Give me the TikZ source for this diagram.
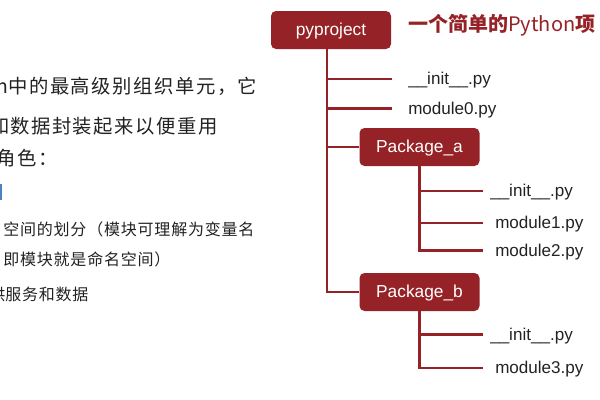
\documentclass[tikz,border=0pt]{standalone}
\usepackage{fontspec}
\setmainfont{Liberation Sans}
\newfontfamily\cjk[LetterSpace=8]{Noto Sans CJK SC}
\newfontfamily\cjks[LetterSpace=5]{Noto Sans CJK SC}
\newfontfamily\cjkt{Noto Sans CJK SC}
\definecolor{dred}{HTML}{952226}
\definecolor{txt}{HTML}{222222}
\definecolor{bluebar}{HTML}{4B80C4}
\begin{document}
\begin{tikzpicture}[x=0.75pt,y=-0.75pt,
  pkg/.style={fill=dred, rounded corners=3.75pt, minimum width=90pt, minimum height=28.5pt,
    inner sep=0pt, text=white, text height=10.5pt, text depth=3pt, font=\fontsize{13}{15}\selectfont},
  file/.style={anchor=west, inner sep=0pt, text=txt, text height=11.6pt, text depth=3pt,
    font=\fontsize{12.8}{15}\selectfont},
  para/.style={anchor=west, inner sep=0pt, text=txt, font=\cjk\fontsize{14.5}{17}\selectfont},
  subpara/.style={anchor=west, inner sep=0pt, text=txt, font=\cjks\fontsize{12}{14}\selectfont},
  link/.style={draw=dred, line width=2.2pt}]
\useasboundingbox (0,0) rectangle (600,400);
\clip (0,0) rectangle (600,400);
% left paragraph (cut at the edge)
\node[para] (p1) at (8,88) {\llap{Python}中的最高级别组织单元，它};
\node[para] (p2) at (10,126) {\llap{和}数据封装起来以便重用};
\node[para] (p3) at (-4,158) {角色：};
\fill[bluebar] (0,184) rectangle (2,200);
\node[subpara] (p5) at (3,229) {空间的划分（模块可理解为变量名};
\node[subpara] (p6) at (3,259) {即模块就是命名空间）};
\node[subpara] (p7) at (5,294) {\llap{供}服务和数据};
% title
\node[anchor=west, inner sep=0pt, text=dred, font=\fontsize{15}{18}\selectfont] (title) at (408,25)
  {{\cjkt\bfseries 一个简单的}{\cjkt Python}{\cjkt\bfseries 项}};
% tree
\node[pkg] (root) at (331,30) {pyproject};
\node[pkg] (pa) at (419.5,147) {Package\_a};
\node[pkg] (pb) at (419.5,292) {Package\_b};
\node[file] (f1) at (408,79) {\_\_init\_\_.py};
\node[file] (f2) at (408,108.5) {module0.py};
\node[file] (g1) at (490,191) {\_\_init\_\_.py};
\node[file] (g2) at (495,223) {module1.py};
\node[file] (g3) at (495,250.5) {module2.py};
\node[file] (h1) at (490,334.5) {\_\_init\_\_.py};
\node[file] (h2) at (495,368) {module3.py};
\coordinate (v) at ([xshift=-3pt]root.south);
\draw[link] (v) |- (pb.west);
\draw[link] (v |- f1.west) -- ([xshift=-12pt]f1.west);
\draw[link] (v |- f2.west) -- ([xshift=-12pt]f2.west);
\draw[link] (v |- pa.west) -- (pa.west);
\draw[link] (pa.south) -- (pa.south |- g3.west) -- ++(63,0);
\draw[link] (pa.south |- g1.west) -- ++(63,0);
\draw[link] (pa.south |- g2.west) -- ++(63,0);
\draw[link] (pb.south) -- (pb.south |- h2.west) -- ++(63,0);
\draw[link] (pb.south |- h1.west) -- ++(63,0);
\end{tikzpicture}
\end{document}
